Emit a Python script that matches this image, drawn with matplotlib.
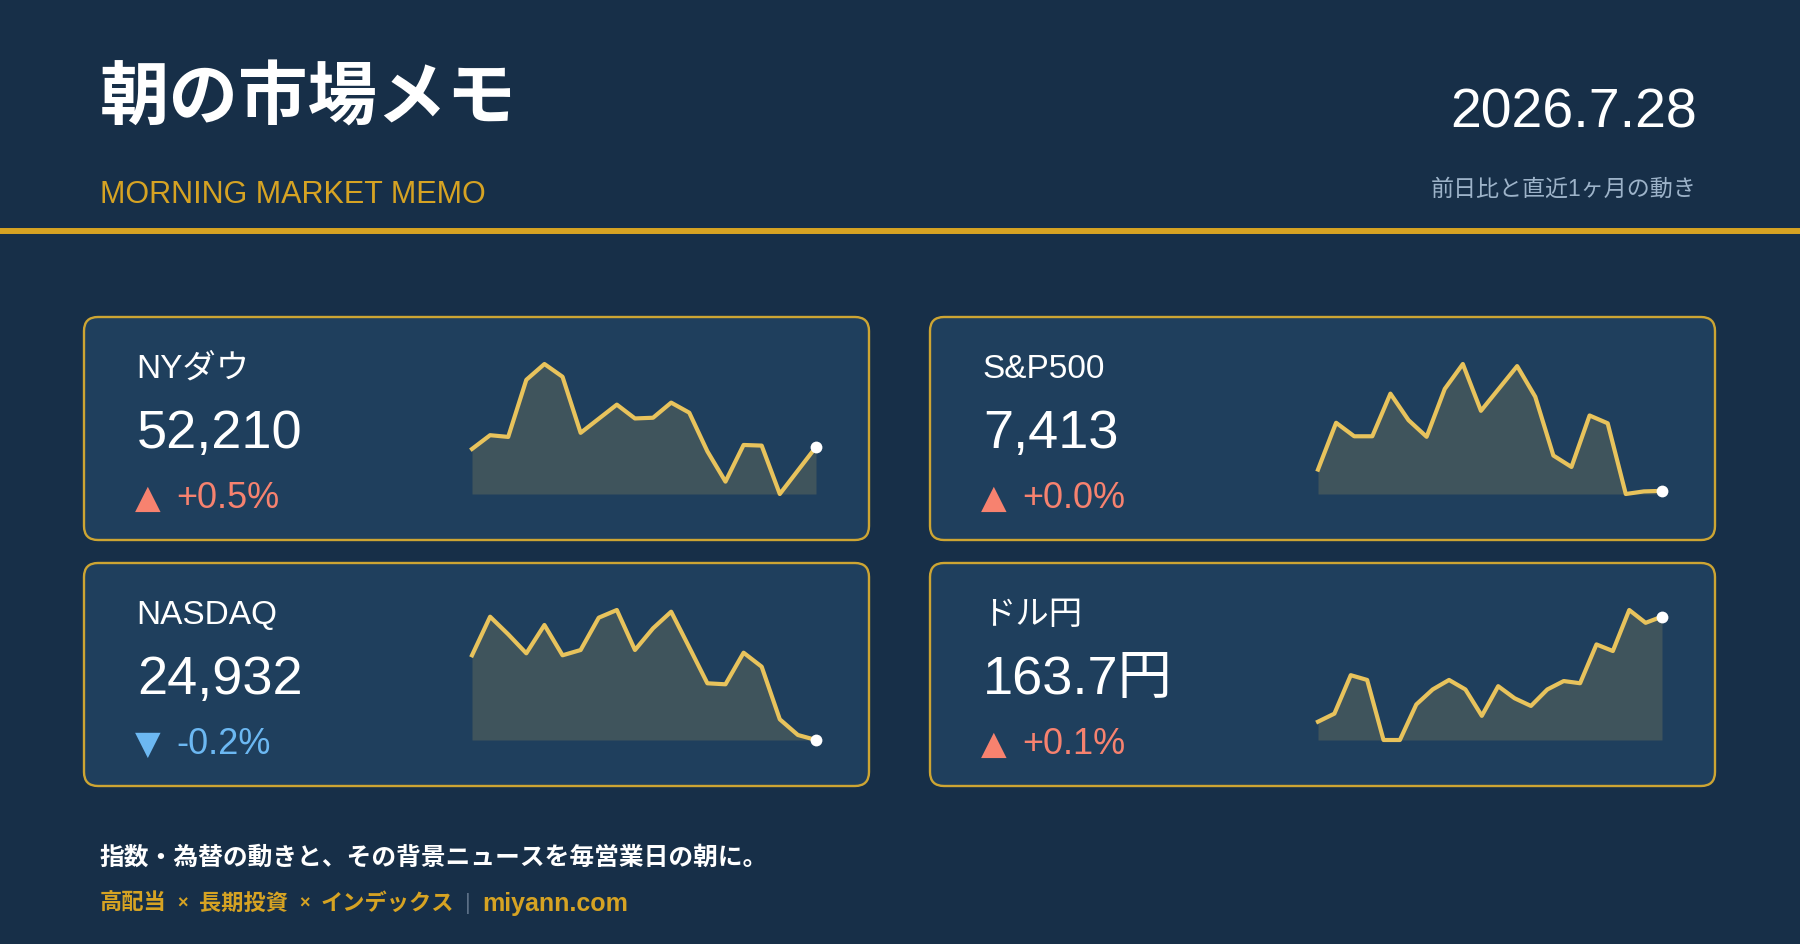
import matplotlib
matplotlib.use("Agg")
import matplotlib.pyplot as plt
from matplotlib.patches import FancyBboxPatch

plt.rcParams["font.family"] = ["Liberation Sans", "Noto Sans CJK JP", "DejaVu Sans"]

names = ["NYダウ", "S&P500", "NASDAQ", "ドル円"]
dow = [52188, 52340, 52321, 52952, 53127, 52986, 52366, 52522, 52678, 52525,
       52533, 52700, 52589, 52162, 51827, 52232, 52225, 51690, 51950, 52210]
spx = [7454, 7544, 7518, 7518, 7600, 7549, 7517, 7609, 7657, 7567,
       7610, 7653, 7594, 7481, 7459, 7558, 7543, 7407, 7412, 7413]
nasdaq = [25779, 26165, 25989, 25799, 26082, 25779, 25832, 26155, 26232, 25832,
          26049, 26215, 25859, 25499, 25489, 25805, 25665, 25139, 24982, 24932]
usdjpy = [160.83, 161.05, 162.10, 161.97, 160.33, 160.33, 161.30, 161.71, 161.97, 161.71, 160.99,
          161.80, 161.47, 161.26, 161.71, 161.94, 161.88, 162.94, 162.76, 163.88, 163.53, 163.70]
series = [dow, spx, nasdaq, usdjpy]
value_fmt = ["{:,.0f}", "{:,.0f}", "{:,.0f}", "{:.1f}円"]

title = "朝の市場メモ"
subtitle = "MORNING MARKET MEMO"
date_str = "2026.7.28"
note = "前日比と直近1ヶ月の動き"
footer = "指数・為替の動きと、その背景ニュースを毎営業日の朝に。"
tags = ["高配当", "長期投資", "インデックス"]
site = "miyann.com"

# couleurs
BG = "#172f48"
CARD = "#1f3f5d"
CARD_EDGE = "#cda533"
GOLD = "#d6a323"
LINE = "#e8c35c"
UP = "#f7826f"
DOWN = "#6cb8f2"
MUTED = "#9db3c9"

W, H = 1800, 945
fig = plt.figure(figsize=(18, 9.45), dpi=100, facecolor=BG)
ax = fig.add_axes([0, 0, 1, 1])
ax.set_xlim(0, W)
ax.set_ylim(H, 0)
ax.axis("off")

# en-tete
ax.text(100, 100, title, color="white", fontsize=50, fontweight="bold", va="center")
ax.text(100, 203, subtitle, color=GOLD, fontsize=22, va="baseline")
ax.text(1697, 128, date_str, color="white", fontsize=40, va="baseline", ha="right")
ax.text(1697, 189, note, color=MUTED, fontsize=16.6, va="center", ha="right")
ax.axhline(231.5, color=GOLD, lw=4.3)

# cartes
card_x = [84, 930, 84, 930]
card_y = [318, 318, 564, 564]
card_w, card_h = 785, 223

for i, (name, s) in enumerate(zip(names, series)):
    x0, y0 = card_x[i], card_y[i]
    ax.add_patch(FancyBboxPatch((x0, y0), card_w, card_h,
                                boxstyle="round,pad=0,rounding_size=14",
                                facecolor=CARD, edgecolor=CARD_EDGE, lw=1.7))
    ax.text(x0 + 52, y0 + 60, name, color="white", fontsize=24, va="baseline")
    ax.text(x0 + 53, y0 + 130, value_fmt[i].format(s[-1]), color="white",
            fontsize=39, va="baseline")
    chg = (s[-1] / s[-2] - 1) * 100
    col = UP if chg >= 0 else DOWN
    ax.text(x0 + 51, y0 + 190, "▲" if chg >= 0 else "▼", color=col,
            fontsize=24, va="baseline", family="DejaVu Sans")
    ax.text(x0 + 92, y0 + 190, f"{chg:+.1f}%", color=col, fontsize=26, va="baseline")

    # sparkline
    sx, sy, sw, sh = x0 + 388, y0 + 47, 344, 130
    sp = fig.add_axes([sx / W, 1 - (sy + sh) / H, sw / W, sh / H])
    xs = range(len(s))
    lo, hi = min(s), max(s)
    sp.fill_between(xs, s, lo, color=LINE, alpha=0.16, lw=0)
    sp.plot(xs, s, color=LINE, lw=3, solid_joinstyle="round", clip_on=False)
    sp.plot([len(s) - 1], [s[-1]], "o", color="white", ms=8.5, mew=0, clip_on=False, zorder=5)
    sp.set_xlim(0, len(s) - 1)
    sp.set_ylim(lo, hi)
    sp.axis("off")

# pied de page
ax.text(100, 858, footer, color="white", fontsize=17.8, fontweight="bold", va="center")

renderer = fig.canvas.get_renderer()
x = 100
parts = []
for j, tag in enumerate(tags):
    parts.append((tag, GOLD, 16, "bold", 11))
    if j < len(tags) - 1:
        parts.append(("×", GOLD, 13, "bold", 11))
parts.append(("|", "#5b6f86", 16, "normal", 11))
parts.append((site, GOLD, 18, "bold", 0))
for txt, col, size, weight, gap in parts:
    t = ax.text(x, 904, txt, color=col, fontsize=size, fontweight=weight, va="center")
    x += t.get_window_extent(renderer).width + gap

fig.savefig("out.png", dpi=100, facecolor=BG)
